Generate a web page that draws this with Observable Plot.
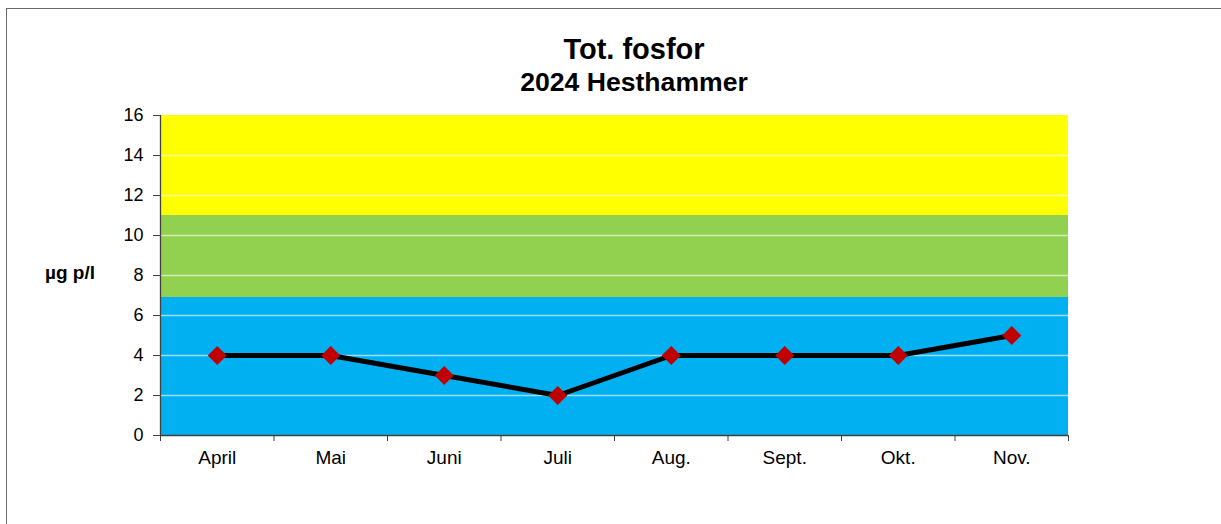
<!DOCTYPE html>
<html>
<head>
<meta charset="utf-8">
<script src="https://cdn.jsdelivr.net/npm/d3@7"></script>
<script src="https://cdn.jsdelivr.net/npm/@observablehq/plot@0.6"></script>
<style>
  html, body { margin: 0; padding: 0; background: #fff; overflow: hidden; }
  #wrap { position: relative; width: 1221px; height: 524px; font-family: "Liberation Sans", Arial, sans-serif; }
  #frame { position: absolute; left: 6px; top: 8px; width: 1230px; height: 540px; border: 1.5px solid #6b6b6b; box-sizing: border-box; }
  .title { position: absolute; left: 634px; transform: translateX(-50%); font-weight: bold; white-space: nowrap; color: #000; line-height: 1; }
  #ylabel { position: absolute; left: 70px; top: 273px; transform: translate(-50%, -50%); font-weight: bold; font-size: 19px; white-space: nowrap; }
  #chart { position: absolute; left: 0; top: 0; }
</style>
</head>
<body>
<div id="wrap">
  <div id="frame"></div>
  <div id="chart"></div>
  <div class="title" id="t1" style="top:35px; font-size:29px;">Tot. fosfor</div>
  <div class="title" id="t2" style="top:69px; font-size:26.6px;">2024 Hesthammer</div>
  <div id="ylabel">µg p/l</div>
</div>
<script>
// Data
const months = ["April", "Mai", "Juni", "Juli", "Aug.", "Sept.", "Okt.", "Nov."];
const totP = [4, 4, 3, 2, 4, 4, 4, 5];
const yTicks = [0, 2, 4, 6, 8, 10, 12, 14, 16];
const gridValues = [2, 4, 6, 8, 10, 12, 14];
const bandLow = [0, 6.9, 11];
const bandHigh = [6.9, 11, 16];
const bandColors = ["#00B0F0", "#92D050", "#FFFF00"];

const points = months.map((m, i) => ({ i: i + 0.5, month: m, value: totP[i] }));
const bands = bandLow.map((lo, i) => ({ lo, hi: bandHigh[i], color: bandColors[i] }));
const boundaries = d3.range(0, months.length + 1);
const centers = months.map((m, i) => i + 0.5);

const chart = Plot.plot({
  width: 1221,
  height: 524,
  marginLeft: 160,
  marginRight: 153,
  marginTop: 115,
  marginBottom: 89,
  style: { fontFamily: "'Liberation Sans', Arial, sans-serif", fontSize: "18px", color: "#000", background: "transparent" },
  x: { type: "linear", domain: [0, months.length] },
  y: { domain: [0, 16] },
  marks: [
    Plot.rectY(bands, { x1: 0, x2: months.length, y1: "lo", y2: "hi", fill: "color" }),
    Plot.ruleY(gridValues, { stroke: "#ffffff", strokeOpacity: 0.6, strokeWidth: 1.5 }),
    Plot.ruleX([0], { stroke: "#404040", strokeWidth: 1.3 }),
    Plot.ruleY([0], { stroke: "#404040", strokeWidth: 1.3 }),
    Plot.axisY({ ticks: yTicks, tickSize: 7, tickPadding: 10, stroke: "#404040", fontSize: 18, label: null }),
    Plot.axisX({ ticks: boundaries, tickSize: 6, tickFormat: () => "", stroke: "#404040", label: null }),
    Plot.axisX({ ticks: centers, tickSize: 0, tickPadding: 15, tickFormat: d => months[Math.floor(d)], fontSize: 19, label: null }),
    Plot.line(points, { x: "i", y: "value", stroke: "#000000", strokeWidth: 5 }),
    Plot.dot(points, { x: "i", y: "value", symbol: "diamond2", r: 8.6, fill: "#C00000", stroke: "none" })
  ]
});
document.getElementById("chart").appendChild(chart);
</script>
</body>
</html>
